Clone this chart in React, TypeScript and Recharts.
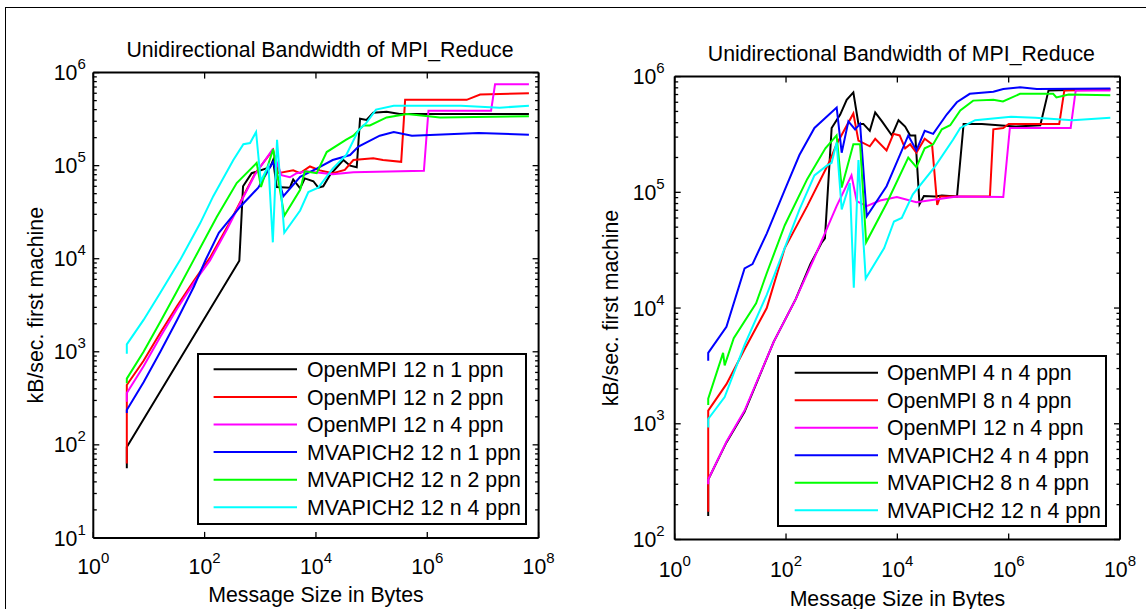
import React from "react";
import { LineChart, Line, XAxis, YAxis, Legend } from "recharts";

type Pt = [number, number];

const FONT = "'Liberation Sans', Arial, Helvetica, sans-serif";
const COLORS = ["#000000", "#ff0000", "#ff00ff", "#0000ff", "#00ff00", "#00ffff"];
const TITLE = "Unidirectional Bandwidth of MPI_Reduce";
const X_LABEL = "Message Size in Bytes";
const Y_LABEL = "kB/sec. first machine";

const xTicks = [1, 1e2, 1e4, 1e6, 1e8];

// ---- left panel: 12 nodes, 1/2/4 ppn ----
const leftNames = [
  "OpenMPI 12 n 1 ppn",
  "OpenMPI 12 n 2 ppn",
  "OpenMPI 12 n 4 ppn",
  "MVAPICH2 12 n 1 ppn",
  "MVAPICH2 12 n 2 ppn",
  "MVAPICH2 12 n 4 ppn",
];

const ompi12x1: Pt[] = [
  [4, 56], [4, 95], [420, 9.5e3], [490, 6.0e4], [700, 8.3e4], [1500, 9.6e4], [1700, 1.15e5],
  [1970, 5.9e4], [3400, 5.8e4], [3900, 7.1e4], [5200, 5.7e4], [6300, 7.3e4], [9000, 6.8e4],
  [1.1e4, 5.8e4], [1.35e4, 6.0e4], [1.78e4, 7.9e4], [3.1e4, 1.15e5], [4.1e4, 1.0e5], [5.4e4, 9.6e4],
  [6.2e4, 3.2e5], [8.1e4, 3.1e5], [1.07e5, 3.7e5], [1.86e5, 3.8e5], [3.2e5, 3.6e5], [6.7e7, 3.6e5],
];
const ompi12x2: Pt[] = [
  [4, 63], [4, 440], [8, 800], [16, 1.6e3], [32, 3.1e3], [64, 5.8e3], [128, 1.05e4], [256, 2.2e4],
  [440, 4.1e4], [800, 8.2e4], [1700, 1.48e5], [2100, 8.3e4], [3900, 8.9e4], [5200, 8.3e4], [7800, 9.8e4],
  [1.18e4, 8.9e4], [2.0e4, 8.3e4], [3.3e4, 9.0e4], [4.7e4, 1.15e5], [1.07e5, 1.2e5], [1.6e5, 1.15e5],
  [3.4e5, 1.1e5], [4.0e5, 5.1e5], [5.1e6, 5.1e5], [8.9e6, 5.8e5], [6.7e7, 6.0e5],
];
const ompi12x4: Pt[] = [
  [4, 290], [4, 360], [8, 700], [16, 1.45e3], [32, 2.9e3], [64, 5.5e3], [125, 9.6e3], [256, 2.1e4],
  [440, 4.0e4], [800, 8.0e4], [1640, 1.48e5], [2400, 7.9e4], [3400, 7.5e4], [4500, 8.3e4], [6800, 8.7e4],
  [2.0e4, 8.1e4], [4.7e4, 8.5e4], [8.7e5, 8.8e4], [1.05e6, 3.9e5], [1.4e7, 3.9e5], [1.65e7, 7.5e5],
  [6.7e7, 7.5e5],
];
const mv12x1: Pt[] = [
  [4, 220], [4, 237], [8, 470], [16, 1.0e3], [32, 2.2e3], [64, 5.0e3], [105, 9.8e3], [180, 1.9e4],
  [433, 3.6e4], [920, 5.8e4], [1700, 1.1e5], [2600, 4.7e4], [5200, 7.6e4], [1.03e4, 9.3e4],
  [2.0e4, 1.15e5], [4.1e4, 1.3e5], [5.8e4, 1.6e5], [1.4e5, 2.1e5], [2.5e5, 2.3e5], [5.3e5, 2.1e5],
  [8.3e6, 2.25e5], [6.7e7, 2.15e5],
];
const mv12x2: Pt[] = [
  [4, 460], [4, 515], [8, 1.0e3], [16, 2.1e3], [32, 4.5e3], [63, 9.6e3], [165, 2.8e4], [377, 6.5e4],
  [860, 1.07e5], [1030, 5.9e4], [1700, 1.5e5], [2700, 2.9e4], [5200, 5.5e4], [6300, 8.7e4],
  [1.03e4, 8.3e4], [1.56e4, 1.4e5], [3.5e4, 1.9e5], [4.7e4, 2.1e5], [7.1e4, 2.7e5], [9.3e4, 2.7e5],
  [1.86e5, 3.3e5], [4.3e5, 3.6e5], [1.7e6, 3.3e5], [6.7e7, 3.4e5],
];
const mv12x4: Pt[] = [
  [4, 950], [4, 1.2e3], [8, 2.2e3], [16, 4.3e3], [36, 9.6e3], [83, 2.4e4], [143, 4.7e4], [328, 1.15e5],
  [497, 1.7e5], [655, 1.75e5], [840, 2.3e5], [1020, 6.8e4], [1400, 1.0e5], [1680, 1.5e4], [2000, 1.9e5],
  [2700, 1.9e4], [5200, 3.3e4], [7300, 5.2e4], [1.1e4, 5.8e4], [2.0e4, 9.3e4], [3.5e4, 1.3e5],
  [5.8e4, 2.4e5], [8.1e4, 2.9e5], [1.2e5, 4.0e5], [2.5e5, 4.4e5], [4e6, 4.4e5], [2e7, 4.2e5], [6.7e7, 4.4e5],
];

// ---- right panel: 4/8/12 nodes, 4 ppn ----
const rightNames = [
  "OpenMPI 4 n 4 ppn",
  "OpenMPI 8 n 4 ppn",
  "OpenMPI 12 n 4 ppn",
  "MVAPICH2 4 n 4 ppn",
  "MVAPICH2 8 n 4 ppn",
  "MVAPICH2 12 n 4 ppn",
];

const ompi4n: Pt[] = [
  [4, 160], [4, 330], [8.5, 690], [18, 1.27e3], [60, 5.1e3], [150, 1.2e4], [275, 2.4e4], [440, 3.7e4],
  [500, 4.0e4], [660, 3.6e5], [940, 4.7e5], [1230, 6.3e5], [1620, 7.3e5], [2000, 3.9e5], [2450, 3.9e5],
  [3200, 3.4e5], [4000, 4.9e5], [5300, 4.1e5], [8000, 3.1e5], [1.05e4, 4.2e5], [1.38e4, 3.7e5],
  [1.7e4, 3.1e5], [2.1e4, 3.1e5], [2.5e4, 7.9e4], [3.0e4, 9.3e4], [4.8e4, 9.2e4], [6.3e4, 9.4e4],
  [1.18e5, 9.2e4], [1.55e5, 3.9e5], [3.3e5, 3.9e5], [1.3e6, 3.7e5], [3.7e6, 3.8e5], [5.2e6, 7.6e5],
  [6.7e7, 7.8e5],
];
const ompi8n: Pt[] = [
  [4, 174], [4, 1.3e3], [8.5, 2.2e3], [18, 4.4e3], [45, 1.0e4], [95, 3.3e4], [240, 7.6e4], [590, 1.8e5],
  [810, 2.6e5], [1620, 4.8e5], [2000, 2.8e5], [3200, 2.5e5], [4000, 2.9e5], [6400, 2.3e5], [8500, 3.2e5],
  [1.1e4, 3.1e5], [1.38e4, 2.4e5], [1.7e4, 2.6e5], [2.2e4, 2.2e5], [3.1e4, 2.9e5], [4.2e4, 2.6e5],
  [5.2e4, 7.8e4], [5.9e4, 9.2e4], [4.6e5, 9.2e4], [5.3e5, 3.5e5], [8.0e5, 3.6e5], [1.0e6, 3.9e5],
  [8.1e6, 3.9e5], [1.0e7, 7.6e5], [6.7e7, 7.7e5],
];
const ompi12n: Pt[] = [
  [4, 300], [4, 330], [8.5, 700], [18, 1.3e3], [60, 5.1e3], [150, 1.2e4], [310, 2.6e4], [810, 7.6e4],
  [1500, 1.4e5], [1860, 8.4e4], [2800, 7.6e4], [4900, 8.5e4], [9800, 9.1e4], [2.2e4, 8.2e4],
  [1.17e5, 9.2e4], [8.0e5, 9.1e4], [1.05e6, 3.6e5], [1.3e7, 3.6e5], [1.6e7, 7.6e5], [6.7e7, 7.6e5],
];
const mv4n: Pt[] = [
  [4, 3.5e3], [4, 4.1e3], [8.5, 6.9e3], [18, 2.2e4], [25, 2.4e4], [45, 4.4e4], [95, 1.05e5],
  [174, 2.1e5], [324, 3.6e5], [813, 5.4e5], [1000, 2.2e5], [1320, 4.1e5], [1740, 3.5e5], [2140, 3.9e5],
  [2820, 6.2e4], [6400, 1.13e5], [1.57e4, 3.1e5], [2.2e4, 2.3e5], [3.1e4, 3.4e5], [4.4e4, 3.2e5],
  [7.7e4, 4.7e5], [1.17e5, 6.0e5], [2.0e5, 7.1e5], [5.3e5, 7.4e5], [8.0e5, 7.8e5], [1.6e6, 8.1e5],
  [3.2e6, 7.8e5], [6.7e7, 7.9e5],
];
const mv8n: Pt[] = [
  [4, 1.45e3], [4, 1.65e3], [7.4, 4.1e3], [7.9, 3.2e3], [11.5, 5.5e3], [29, 1.1e4], [45, 2.0e4],
  [95, 5.2e4], [240, 1.3e5], [510, 2.4e5], [810, 3.1e5], [1000, 1.1e5], [1620, 2.6e5], [2140, 2.6e5],
  [2750, 3.7e4], [6400, 8.0e4], [1.57e4, 2.0e5], [2.2e4, 1.65e5], [3.1e4, 2.4e5], [4.4e4, 2.6e5],
  [6.3e4, 3.5e5], [8.9e4, 3.8e5], [1.35e5, 5.1e5], [2.3e5, 6.2e5], [5.3e5, 6.3e5], [7.9e5, 6.1e5],
  [1.6e6, 7.1e5], [6.3e6, 7.1e5], [7.2e6, 6.6e5], [1.2e7, 7.0e5], [6.7e7, 6.9e5],
];
const mv12n: Pt[] = [
  [4, 930], [4, 1.1e3], [7.9, 1.7e3], [18, 4.8e3], [45, 1.3e4], [174, 7.1e4], [324, 1.4e5], [540, 1.7e5],
  [660, 1.8e5], [810, 2.7e5], [1000, 7.1e4], [1400, 1.2e5], [1650, 1.5e4], [2000, 1.9e5], [2700, 1.8e4],
  [5800, 3.3e4], [8700, 5.6e4], [1.2e4, 6.0e4], [1.9e4, 9.6e4], [4.7e4, 1.66e5], [1.0e5, 2.85e5],
  [1.35e5, 3.6e5], [2.5e5, 4.2e5], [1.1e6, 4.5e5], [3e6, 4.4e5], [1.4e7, 4.2e5], [6.7e7, 4.4e5],
];

function logTicks(lo: number, hi: number) {
  const out: number[] = [];
  for (let d = lo; d < hi; d *= 10) for (let k = 1; k < 10; k++) out.push(d * k);
  out.push(hi);
  return out;
}

function isMajor(v: number) {
  const e = Math.log10(v);
  return Math.abs(e - Math.round(e)) < 1e-6;
}

function yTick(side: "left" | "right", gap: number) {
  return (p: any) => {
    const { x, y, payload } = p;
    const v = payload.value;
    const major = isMajor(v);
    const len = major ? 6 : 3.5;
    const dir = side === "left" ? 1 : -1;
    return (
      <g>
        <line x1={x} x2={x + dir * len} y1={y} y2={y} stroke="#000" strokeWidth={1.3} />
        {side === "left" && major ? (
          <text x={x - gap} y={y + 7.6} textAnchor="end" fontSize={21.3} fontFamily={FONT} fill="#000">
            10<tspan dy={-11} fontSize={15}>{Math.round(Math.log10(v))}</tspan>
          </text>
        ) : null}
      </g>
    );
  };
}

function xTick(side: "top" | "bottom", drop: number) {
  return (p: any) => {
    const { x, y, payload } = p;
    const v = payload.value;
    const dir = side === "bottom" ? -1 : 1;
    return (
      <g>
        <line x1={x} x2={x} y1={y} y2={y + dir * 6} stroke="#000" strokeWidth={1.3} />
        {side === "bottom" ? (
          <text x={x} y={y + drop} textAnchor="middle" fontSize={21.3} fontFamily={FONT} fill="#000">
            10<tspan dy={-11} fontSize={15}>{Math.round(Math.log10(v))}</tspan>
          </text>
        ) : null}
      </g>
    );
  };
}

type PanelProps = {
  left: number;
  plot: { l: number; r: number; t: number; b: number };
  yDomain: [number, number];
  names: string[];
  series: Pt[][];
  yGap: number;
  yLabelOff: number;
  xDrop: number;
  xLabelOff: number;
  legend: { left: number; top: number; width: number; height: number; first: number; step: number; lx1: number; lx2: number; tx: number };
};

const W = 573;
const H = 609;

function Panel(props: PanelProps) {
  const { plot, yDomain, names, series, legend } = props;
  const margin = { top: plot.t - 1, bottom: H - plot.b - 1, left: plot.l - 1, right: W - plot.r - 1 };
  const yTicks = logTicks(yDomain[0], yDomain[1]);
  const axisLine = { stroke: "#000", strokeWidth: 2 };

  const renderLegend = () => (
    <svg width={legend.width} height={legend.height} style={{ display: "block" }}>
      <rect x={1} y={1} width={legend.width - 2} height={legend.height - 2} fill="#fff" stroke="#000" strokeWidth={2} />
      {names.map((n, i) => {
        const cy = legend.first + i * legend.step;
        return (
          <g key={n}>
            <line x1={legend.lx1} x2={legend.lx2} y1={cy} y2={cy} stroke={COLORS[i]} strokeWidth={2} />
            <text x={legend.tx} y={cy + 7.6} fontSize={21.3} fontFamily={FONT} fill="#000">{n}</text>
          </g>
        );
      })}
    </svg>
  );

  return (
    <div style={{ position: "absolute", left: props.left, top: 0, width: W, height: H }}>
      <LineChart width={W} height={H} margin={margin}>
        <XAxis
          xAxisId="b" orientation="bottom" dataKey="x" type="number" scale="log" domain={[1, 1e8]}
          allowDataOverflow ticks={xTicks} interval={0} height={1} tickSize={0} tickMargin={0}
          tickLine={false} axisLine={axisLine} tick={xTick("bottom", props.xDrop)}
          label={(lp: any) => {
            const vb = lp.viewBox;
            return (
              <text x={vb.x + vb.width / 2} y={vb.y + props.xLabelOff} textAnchor="middle" fontSize={21.3} fontFamily={FONT} fill="#000">
                {X_LABEL}
              </text>
            );
          }}
        />
        <XAxis
          xAxisId="t" orientation="top" dataKey="x" type="number" scale="log" domain={[1, 1e8]}
          allowDataOverflow ticks={xTicks} interval={0} height={1} tickSize={0} tickMargin={0}
          tickLine={false} axisLine={axisLine} tick={xTick("top", 0)}
          label={(lp: any) => {
            const vb = lp.viewBox;
            return (
              <text x={vb.x + vb.width / 2 + 4} y={vb.y + 1 - 16} textAnchor="middle" fontSize={21.3} fontFamily={FONT} fill="#000">
                {TITLE}
              </text>
            );
          }}
        />
        <YAxis
          yAxisId="l" orientation="left" type="number" scale="log" domain={yDomain} allowDataOverflow
          ticks={yTicks} interval={0} width={1} tickSize={0} tickMargin={0} tickLine={false}
          axisLine={axisLine} tick={yTick("left", props.yGap)}
          label={(lp: any) => {
            const vb = lp.viewBox;
            const cx = vb.x + 1 - props.yLabelOff;
            const cy = vb.y + vb.height / 2;
            return (
              <text x={cx} y={cy} transform={`rotate(-90 ${cx} ${cy})`} textAnchor="middle" fontSize={21.3} fontFamily={FONT} fill="#000">
                {Y_LABEL}
              </text>
            );
          }}
        />
        <YAxis
          yAxisId="r" orientation="right" type="number" scale="log" domain={yDomain} allowDataOverflow
          ticks={yTicks} interval={0} width={1} tickSize={0} tickMargin={0} tickLine={false}
          axisLine={axisLine} tick={yTick("right", 0)}
        />
        {series.map((s, i) => (
          <Line
            key={names[i]}
            xAxisId="b"
            yAxisId="l"
            data={s.map(([x, y]) => ({ x, y }))}
            dataKey="y"
            name={names[i]}
            type="linear"
            stroke={COLORS[i]}
            strokeWidth={2}
            dot={false}
            activeDot={false}
            isAnimationActive={false}
          />
        ))}
        <Legend
          layout="vertical"
          align="center"
          verticalAlign="middle"
          wrapperStyle={{ left: legend.left, top: legend.top, width: legend.width, height: legend.height, margin: 0, padding: 0 }}
          content={renderLegend}
        />
      </LineChart>
    </div>
  );
}

export default function App() {
  return (
    <div style={{ position: "absolute", left: 0, top: 0, width: 1146, height: 609, background: "#fff", overflow: "hidden" }}>
      <div style={{ position: "absolute", left: 5, top: 6.5, width: 1141, height: 1.5, background: "#000" }} />
      <div style={{ position: "absolute", left: 4.5, top: 6.5, width: 1.5, height: 603, background: "#000" }} />
      <Panel
        left={0}
        plot={{ l: 93.3, r: 538.6, t: 72.6, b: 537.9 }}
        yDomain={[10, 1e6]}
        names={leftNames}
        series={[ompi12x1, ompi12x2, ompi12x4, mv12x1, mv12x2, mv12x4]}
        yGap={7.5}
        yLabelOff={50}
        xDrop={36}
        xLabelOff={64}
        legend={{ left: 196.7, top: 352.7, width: 330, height: 172, first: 16.3, step: 27.6, lx1: 16.6, lx2: 100, tx: 110 }}
      />
      <Panel
        left={573}
        plot={{ l: 101.7, r: 547, t: 76.6, b: 539.5 }}
        yDomain={[100, 1e6]}
        names={rightNames}
        series={[ompi4n, ompi8n, ompi12n, mv4n, mv8n, mv12n]}
        yGap={10}
        yLabelOff={57}
        xDrop={37}
        xLabelOff={66}
        legend={{ left: 204.3, top: 355, width: 330, height: 172, first: 17.7, step: 27.5, lx1: 17.7, lx2: 101, tx: 110 }}
      />
    </div>
  );
}
